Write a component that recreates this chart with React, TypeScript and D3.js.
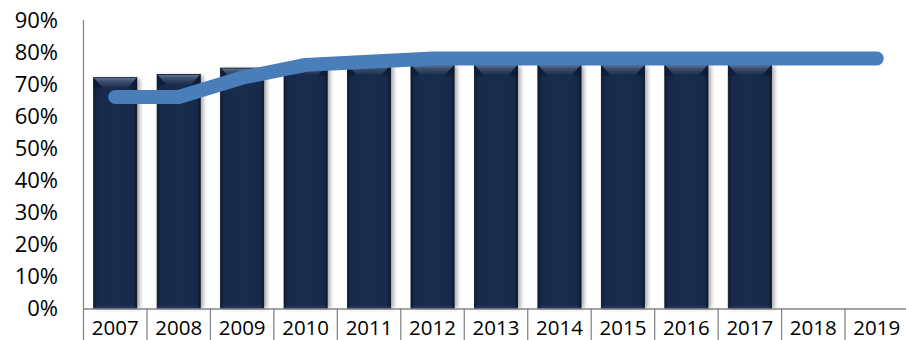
import React from "react";
import * as d3 from "d3";

const years = ["2007", "2008", "2009", "2010", "2011", "2012", "2013", "2014", "2015", "2016", "2017", "2018", "2019"];
const barYears = ["2007", "2008", "2009", "2010", "2011", "2012", "2013", "2014", "2015", "2016", "2017"];
const barValues = [0.72, 0.73, 0.75, 0.76, 0.76, 0.76, 0.76, 0.76, 0.76, 0.76, 0.76];
const lineValues = [0.66, 0.66, 0.72, 0.76, 0.77, 0.78, 0.78, 0.78, 0.78, 0.78, 0.78, 0.78, 0.78];
const yTicks = [0, 0.1, 0.2, 0.3, 0.4, 0.5, 0.6, 0.7, 0.8, 0.9];

const W = 906;
const H = 340;
const left = 83.5;
const right = 908.5;
const top = 20;
const bottom = 308.5;

export default function App() {
  const xCat = d3.scaleBand<string>().domain(years).range([left, right]);
  const x = d3.scaleBand<string>().domain(years).range([left, right]).paddingInner(0.32).paddingOuter(0.16);
  const y = d3.scaleLinear().domain([0, 0.9]).range([bottom, top]);
  const fmt = d3.format(".0%");
  const bw = x.bandwidth();
  const step = xCat.bandwidth();

  const linePath = d3
    .line<number>()
    .x((_, i) => (xCat(years[i]) as number) + step / 2)
    .y((d) => y(d))(lineValues) as string;

  const font = "'Open Sans', 'Liberation Sans', sans-serif";

  return (
    <svg width={W} height={H} style={{ position: "absolute", left: 0, top: 0, display: "block", background: "#fff" }}>
      <defs>
        <linearGradient id="barBody" x1="0" x2="1" y1="0" y2="0">
          <stop offset="0" stopColor="#0e1b33" />
          <stop offset="0.08" stopColor="#17294a" />
          <stop offset="0.5" stopColor="#192c4e" />
          <stop offset="0.92" stopColor="#17294a" />
          <stop offset="1" stopColor="#0c182e" />
        </linearGradient>
        <linearGradient id="bevelTop" x1="0" x2="0" y1="0" y2="1">
          <stop offset="0" stopColor="#6a7a98" />
          <stop offset="0.35" stopColor="#3e4f6f" />
          <stop offset="1" stopColor="#1b2e50" />
        </linearGradient>
        <linearGradient id="bevelBottom" x1="0" x2="0" y1="0" y2="1">
          <stop offset="0" stopColor="#17294a" />
          <stop offset="1" stopColor="#2a3c5e" />
        </linearGradient>
        <filter id="shadow" x="-20%" y="-10%" width="140%" height="120%">
          <feGaussianBlur stdDeviation="2" />
        </filter>
      </defs>

      {/* bars */}
      {barYears.map((yr, i) => {
        const x0 = x(yr) as number;
        const y0 = y(barValues[i]);
        const h = bottom - y0;
        const bev = 10;
        const side = 9;
        return (
          <g key={yr}>
            <rect x={x0 + 2} y={y0 + 1} width={bw + 1} height={h - 1} fill="#000" opacity={0.35} filter="url(#shadow)" />
            <rect x={x0} y={y0} width={bw} height={h} fill="url(#barBody)" />
            <polygon
              points={`${x0},${y0} ${x0 + bw},${y0} ${x0 + bw - side},${y0 + bev} ${x0 + side},${y0 + bev}`}
              fill="url(#bevelTop)"
            />
            <polygon
              points={`${x0},${y0} ${x0 + side},${y0 + bev} ${x0},${y0 + bev + 2}`}
              fill="#0f1d37"
              opacity={0.9}
            />
            <polygon
              points={`${x0 + bw},${y0} ${x0 + bw - side},${y0 + bev} ${x0 + bw},${y0 + bev + 2}`}
              fill="#0f1d37"
              opacity={0.9}
            />
            <polygon
              points={`${x0 + 4},${bottom - 4} ${x0 + bw - 4},${bottom - 4} ${x0 + bw},${bottom} ${x0},${bottom}`}
              fill="url(#bevelBottom)"
            />
            <rect x={x0} y={y0} width={bw} height={h} fill="none" stroke="#0b1629" strokeWidth={0.8} />
          </g>
        );
      })}

      {/* axes */}
      <line x1={left} x2={left} y1={top} y2={bottom} stroke="#868686" strokeWidth={1.3} />
      <line x1={left} x2={right} y1={bottom + 0.5} y2={bottom + 0.5} stroke="#868686" strokeWidth={1.3} />
      {years.map((yr) => (
        <line
          key={"d" + yr}
          x1={xCat(yr) as number}
          x2={xCat(yr) as number}
          y1={bottom}
          y2={H}
          stroke="#868686"
          strokeWidth={1.3}
        />
      ))}

      {/* line series */}
      <path d={linePath} fill="none" stroke="#4a7ebb" strokeWidth={14} strokeLinecap="round" strokeLinejoin="round" />

      {/* y tick labels */}
      {yTicks.map((t) => (
        <text
          key={"t" + t}
          x={58}
          y={y(t)}
          dy="0.36em"
          textAnchor="end"
          fontFamily={font}
          fontSize={22}
          fill="#000"
        >
          {fmt(t)}
        </text>
      ))}

      {/* x labels */}
      {years.map((yr) => (
        <text
          key={"x" + yr}
          x={(xCat(yr) as number) + step / 2}
          y={334.5}
          textAnchor="middle"
          fontFamily={font}
          fontSize={20.5}
          fill="#000"
        >
          {yr}
        </text>
      ))}
    </svg>
  );
}
